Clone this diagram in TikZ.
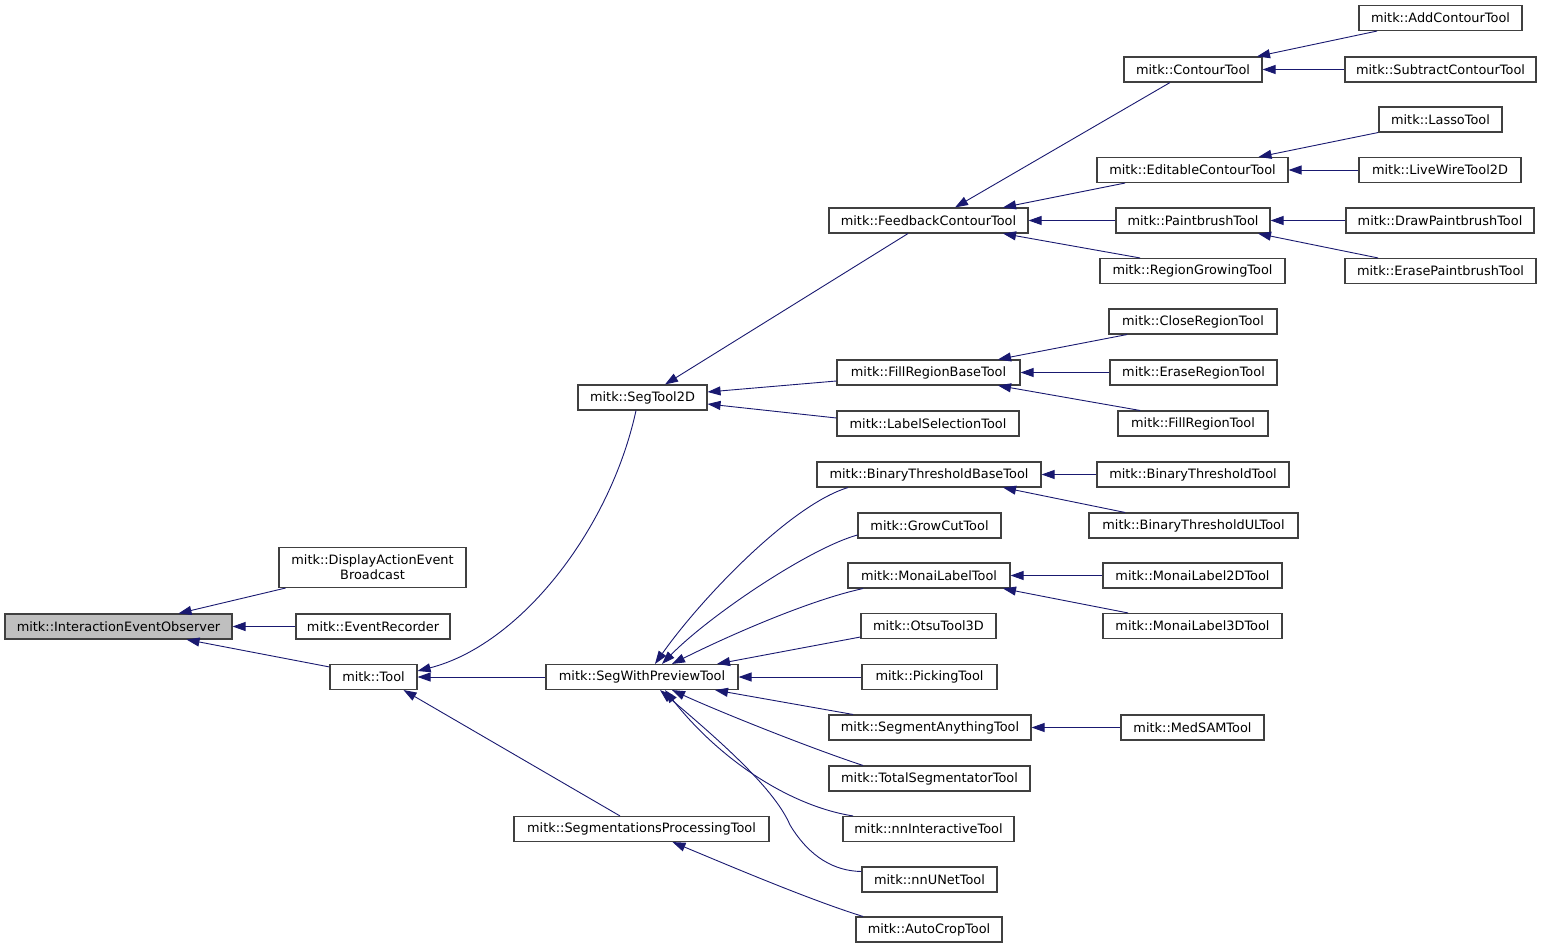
\documentclass[tikz,border=0pt]{standalone}
\usepackage{fontspec}
\setmainfont{DejaVu Sans}
\usetikzlibrary{arrows.meta}
\definecolor{navy}{HTML}{191970}
\definecolor{grey25}{HTML}{404040}
\definecolor{grey75}{HTML}{BFBFBF}
\begin{document}
\begin{tikzpicture}[x=1pt,y=-1pt,
  box/.style={draw=grey25, fill=white, line width=1.1pt, minimum height=25pt, inner sep=0pt,
    font=\fontsize{12.9}{15}\selectfont, align=center},
  inh/.style={draw=navy, line width=0.9pt, {Triangle[length=13pt,width=9pt,fill=navy]}-}]
\useasboundingbox (0,0) rectangle (1541,949);
% nodes
\node[box, fill=grey75, minimum width=227pt] (root) at (118.5,626.5) {mitk::InteractionEventObserver};
\node[box, minimum width=187pt, minimum height=40pt] (daeb) at (372.5,567.5) {mitk::DisplayActionEvent\\Broadcast};
\node[box, minimum width=154pt] (evrec) at (373,626.5) {mitk::EventRecorder};
\node[box, minimum width=87pt] (tool) at (373.5,677) {mitk::Tool};
\node[box, minimum width=129pt] (segtool2d) at (642.5,397.5) {mitk::SegTool2D};
\node[box, minimum width=192pt] (swp) at (642,677) {mitk::SegWithPreviewTool};
\node[box, minimum width=255pt] (segproc) at (641.5,829) {mitk::SegmentationsProcessingTool};
\node[box, minimum width=199pt] (feedback) at (928.5,220.5) {mitk::FeedbackContourTool};
\node[box, minimum width=183pt] (fillbase) at (928.5,372.5) {mitk::FillRegionBaseTool};
\node[box, minimum width=182pt] (labelsel) at (928,423.5) {mitk::LabelSelectionTool};
\node[box, minimum width=138pt] (contour) at (1193,69.5) {mitk::ContourTool};
\node[box, minimum width=191pt] (editable) at (1192.5,170) {mitk::EditableContourTool};
\node[box, minimum width=154pt] (paint) at (1193,220.5) {mitk::PaintbrushTool};
\node[box, minimum width=185pt] (regiongrow) at (1192.5,271) {mitk::RegionGrowingTool};
\node[box, minimum width=163pt] (addcontour) at (1440.5,18) {mitk::AddContourTool};
\node[box, minimum width=191pt] (subtract) at (1440.5,69.5) {mitk::SubtractContourTool};
\node[box, minimum width=123pt] (lasso) at (1440.5,119.5) {mitk::LassoTool};
\node[box, minimum width=162pt] (livewire) at (1440,170) {mitk::LiveWireTool2D};
\node[box, minimum width=188pt] (drawpaint) at (1440,220.5) {mitk::DrawPaintbrushTool};
\node[box, minimum width=191pt] (erasepaint) at (1440.5,271) {mitk::ErasePaintbrushTool};
\node[box, minimum width=168pt] (closeregion) at (1193,321.5) {mitk::CloseRegionTool};
\node[box, minimum width=167pt] (eraseregion) at (1193.5,372.5) {mitk::EraseRegionTool};
\node[box, minimum width=150pt] (fillregion) at (1193,423.5) {mitk::FillRegionTool};
\node[box, minimum width=224pt] (btbt) at (929,474.5) {mitk::BinaryThresholdBaseTool};
\node[box, minimum width=192pt] (btt) at (1193,474.5) {mitk::BinaryThresholdTool};
\node[box, minimum width=143pt] (growcut) at (929.5,525.5) {mitk::GrowCutTool};
\node[box, minimum width=209pt] (btul) at (1193.5,525.5) {mitk::BinaryThresholdULTool};
\node[box, minimum width=162pt] (monai) at (929,575.5) {mitk::MonaiLabelTool};
\node[box, minimum width=179pt] (ml2d) at (1192.5,575.5) {mitk::MonaiLabel2DTool};
\node[box, minimum width=135pt] (otsu) at (928.5,626) {mitk::OtsuTool3D};
\node[box, minimum width=179pt] (ml3d) at (1192.5,626) {mitk::MonaiLabel3DTool};
\node[box, minimum width=135pt] (picking) at (929.5,677) {mitk::PickingTool};
\node[box, minimum width=202pt] (seganything) at (930,727.5) {mitk::SegmentAnythingTool};
\node[box, minimum width=143pt] (medsam) at (1192.5,727.5) {mitk::MedSAMTool};
\node[box, minimum width=201pt] (totalseg) at (929.5,778.5) {mitk::TotalSegmentatorTool};
\node[box, minimum width=171pt] (nninter) at (928.5,829) {mitk::nnInteractiveTool};
\node[box, minimum width=135pt] (nnunet) at (929.5,879.5) {mitk::nnUNetTool};
\node[box, minimum width=146pt] (autocrop) at (929,929.5) {mitk::AutoCropTool};
% edges
\draw[inh] ([xshift=60]root.north) -- ([xshift=-87]daeb.south);
\draw[inh] (root.east) -- (evrec.west);
\draw[inh] ([xshift=68]root.south) -- ([yshift=-3]tool.north west);
\draw[inh] ([yshift=6]tool.east) .. controls (520,645) and (610,530) .. ([xshift=-6.5]segtool2d.south);
\draw[inh] (tool.east) -- (swp.west);
\draw[inh] ([xshift=30]tool.south) -- ([xshift=-21.5]segproc.north);
\draw[inh] ([xshift=22.5]segtool2d.north) -- ([xshift=-20.5]feedback.south);
\draw[inh] ([yshift=5.5]segtool2d.east) -- ([yshift=-8.5]fillbase.west);
\draw[inh] ([yshift=-6.5]segtool2d.east) -- ([yshift=5.5]labelsel.west);
\draw[inh] ([xshift=26.5]feedback.north) -- ([xshift=-23]contour.south);
\draw[inh] ([xshift=74.5]feedback.north) -- ([xshift=-67.5]editable.south);
\draw[inh] (feedback.east) -- (paint.west);
\draw[inh] ([xshift=74.5]feedback.south) -- ([xshift=-52.5]regiongrow.north);
\draw[inh] ([xshift=64]contour.north) -- ([xshift=-63.5]addcontour.south);
\draw[inh] (contour.east) -- (subtract.west);
\draw[inh] ([xshift=66]editable.north) -- ([xshift=-62.5]lasso.south);
\draw[inh] (editable.east) -- (livewire.west);
\draw[inh] (paint.east) -- (drawpaint.west);
\draw[inh] ([xshift=65]paint.south) -- ([xshift=-62.5]erasepaint.north);
\draw[inh] ([xshift=69.5]fillbase.north) -- ([xshift=-66]closeregion.south);
\draw[inh] (fillbase.east) -- (eraseregion.west);
\draw[inh] ([xshift=69.5]fillbase.south) -- ([xshift=-53]fillregion.north);
\draw[inh] (btbt.east) -- (btt.west);
\draw[inh] ([xshift=74]btbt.south) -- ([xshift=-68.5]btul.north);
\draw[inh] (monai.east) -- (ml2d.west);
\draw[inh] ([xshift=74]monai.south) -- ([xshift=-64.5]ml3d.north);
\draw[inh] (seganything.east) -- (medsam.west);
\draw[inh] ([xshift=13]swp.north) .. controls (700,600) and (790,505) .. ([xshift=-81]btbt.south);
\draw[inh] ([xshift=20]swp.north) .. controls (710,615) and (810,548) .. ([yshift=-9.5]growcut.west);
\draw[inh] ([xshift=30]swp.north) .. controls (730,635) and (810,600) .. ([xshift=-66]monai.south);
\draw[inh] ([xshift=75]swp.north) -- ([yshift=-11]otsu.west);
\draw[inh] (swp.east) -- (picking.west);
\draw[inh] ([xshift=73]swp.south) -- ([xshift=-77]seganything.north);
\draw[inh] ([xshift=30]swp.south) .. controls (720,712) and (810,748) .. ([xshift=-66.5]totalseg.north);
\draw[inh] ([xshift=23]swp.south) .. controls (720,760) and (790,806) .. ([xshift=-75.5]nninter.north);
\draw[inh] ([xshift=18]swp.south) .. controls (725,745) and (775,790) .. (790,825) .. controls (810,858) and (835,871) .. ([yshift=8]nnunet.west);
\draw[inh] ([xshift=31]segproc.south) .. controls (730,866) and (810,900) .. ([xshift=-66]autocrop.north);
\end{tikzpicture}
\end{document}
